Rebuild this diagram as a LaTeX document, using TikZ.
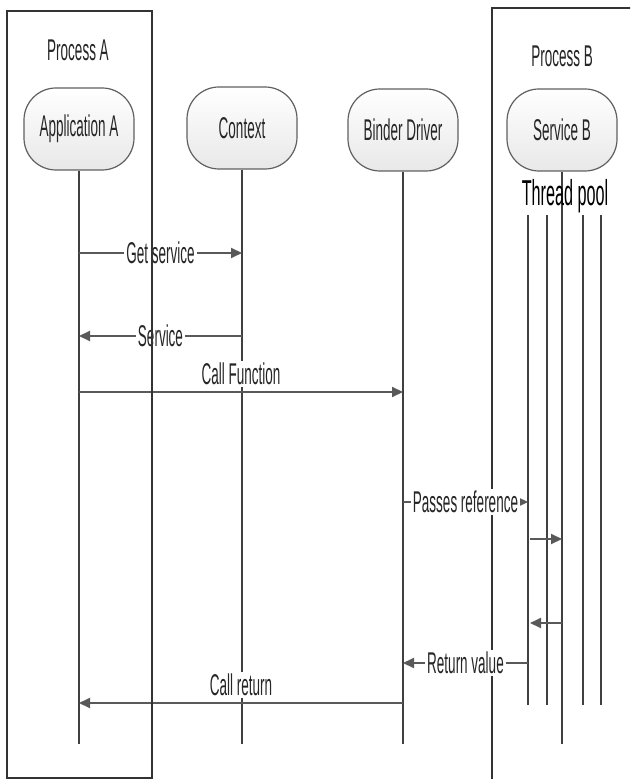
\documentclass[tikz,border=0pt]{standalone}
\usepackage{fontspec}
\setmainfont{Liberation Sans}[FakeStretch=0.45]
\usetikzlibrary{positioning, arrows.meta, calc}

\tikzset{
    actor/.style={draw=gray!75!black, line width=0.6pt, rounded corners=16pt,
        minimum width=55pt, minimum height=41pt, top color=white, bottom color=gray!18,
        font=\fontsize{15}{17}\selectfont, text=black!85},
    lifeline/.style={draw=black!75, line width=0.7pt},
    msg/.style={draw=black!65, line width=1pt, -{Triangle[length=5.5pt,width=5pt]}},
    msglabel/.style={fill=white, inner sep=1pt, font=\fontsize{15}{17}\selectfont, text=black!85},
    procbox/.style={draw=black!80, line width=0.8pt},
}

\begin{document}
\begin{tikzpicture}[x=0.5pt, y=-0.5pt]
        \clip (0,0) rectangle (630,779);
        \fill[white] (0,0) rectangle (630,779);
        % Process B frame
        \draw[procbox] (492,8) rectangle (660,800);
        \node[msglabel, fill=none] (procB) at (562,56) {Process B};
        % Actors
        \node[actor] (app) at (79,129) {Application A};
        \node[actor] (ctx) at (242,128) {Context};
        \node[actor] (bdr) at (403,130) {Binder Driver};
        \node[actor] (svc) at (562,130) {Service B};
        % Lifelines
        \foreach \n in {app,ctx,bdr,svc} {
            \coordinate (\n-end) at (\n.south |- 0,744);
            \draw[lifeline] (\n.south) -- (\n-end);
        }
        % Thread pool
        \foreach \x [count=\i] in {528,547,583,601} {
            \coordinate (t\i-top) at (\x,215);
            \coordinate (t\i-bot) at (\x,705);
            \draw[lifeline] (t\i-top) -- (t\i-bot);
        }
        \node[font=\fontsize{18}{20}\selectfont, text=black, inner sep=0pt] (pool) at (565,196) {Thread pool};
        % Message rows
        \coordinate (r1) at (0,253);
        \coordinate (r2) at (0,336);
        \coordinate (r3) at (0,392);
        \coordinate (r4) at (0,502);
        \coordinate (r5) at (0,539);
        \coordinate (r6) at (0,623);
        \coordinate (r7) at (0,663);
        \coordinate (r8) at (0,703);
        % Messages
        \draw[msg] (app |- r1) -- node[msglabel] (getsvc) {Get service} (ctx |- r1);
        \draw[msg] (ctx |- r2) -- node[msglabel] (svcret) {Service} (app |- r2);
        \draw[msg] (app |- r3) -- node[msglabel, above=2pt] (callfn) {Call Function} (bdr |- r3);
        \draw[msg] (bdr |- r4) -- node[msglabel] (passref) {Passes reference} (t1-top |- r4);
        \draw[msg] ([xshift=1pt]t1-top |- r5) -- (svc |- r5);
        \draw[msg] (svc |- r6) -- ([xshift=1pt]t1-top |- r6);
        \draw[msg] (t1-top |- r7) -- node[msglabel] (retval) {Return value} (bdr |- r7);
        \draw[msg] (bdr |- r8) -- node[msglabel, above=2pt] (callret) {Call return} (app |- r8);
        % Process A frame
        \draw[procbox] (7,11) rectangle (152,778);
        \node[msglabel, fill=none] (procA) at (78,50) {Process A};
    \end{tikzpicture}
\end{document}
